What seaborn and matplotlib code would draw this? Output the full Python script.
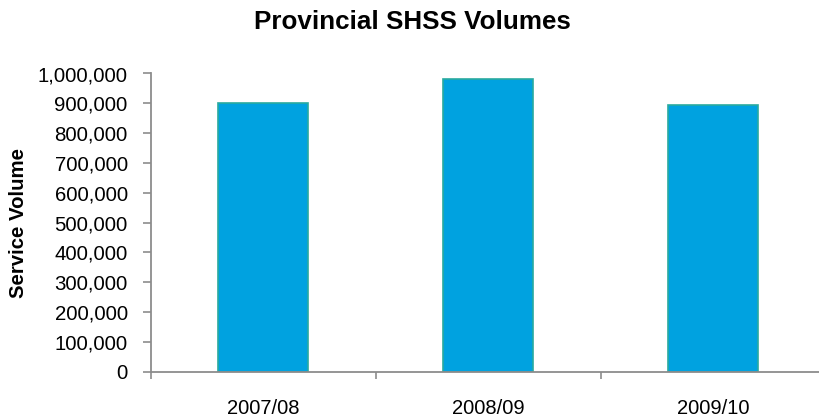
import matplotlib
matplotlib.use("Agg")
import matplotlib.pyplot as plt
import seaborn as sns
import pandas as pd
from matplotlib.ticker import FuncFormatter, FixedLocator

# Annual service volumes by fiscal year
years = ["2007/08", "2008/09", "2009/10"]
volumes = [901000, 980000, 895000]

df = pd.DataFrame({"year": years, "volume": volumes})

sns.set_theme(style="white")
plt.rcParams["font.family"] = ["Liberation Sans", "DejaVu Sans"]
plt.rcParams["text.color"] = "black"
plt.rcParams["axes.labelcolor"] = "black"

fig = plt.figure(figsize=(8.2, 4.19), dpi=100)
ax = fig.add_axes([151 / 820, 1 - 371.7 / 419, 675 / 820, (371.7 - 73.5) / 419])

sns.barplot(data=df, x="year", y="volume", ax=ax, color="#00A2E0",
            saturation=1, width=0.4, edgecolor="#2AAAA0", linewidth=1.2)

ax.set_ylim(0, 1000000)
ax.set_xlim(-0.5, 2.5)
ax.yaxis.set_major_locator(FixedLocator(range(0, 1000001, 100000)))
ax.yaxis.set_major_formatter(FuncFormatter(lambda v, p: f"{int(v):,}"))

for side in ["top", "right"]:
    ax.spines[side].set_visible(False)
for side in ["left", "bottom"]:
    ax.spines[side].set_color("#8C8C8C")
    ax.spines[side].set_linewidth(1.3)

ax.tick_params(axis="y", which="major", left=True, length=5.8, width=1.2,
               color="#8C8C8C", pad=11, labelsize=14.7, labelcolor="black")
# Category labels at bar centres, tick marks on the category boundaries
ax.tick_params(axis="x", which="major", bottom=False, length=0, pad=19.5,
               labelsize=14.5, labelcolor="black")
ax.set_xticks([-0.5, 0.5, 1.5, 2.5], minor=True)
ax.tick_params(axis="x", which="minor", bottom=True, length=5, width=1.2,
               color="#8C8C8C")

ax.set_xlabel("")
ax.set_ylabel("Service Volume", fontsize=14.7, fontweight="bold", labelpad=7)
fig.text(412 / 820, 1 - 22 / 419, "Provincial SHSS Volumes", ha="center",
         va="center", fontsize=18.7, fontweight="bold")

fig.savefig("out.png", dpi=100)
